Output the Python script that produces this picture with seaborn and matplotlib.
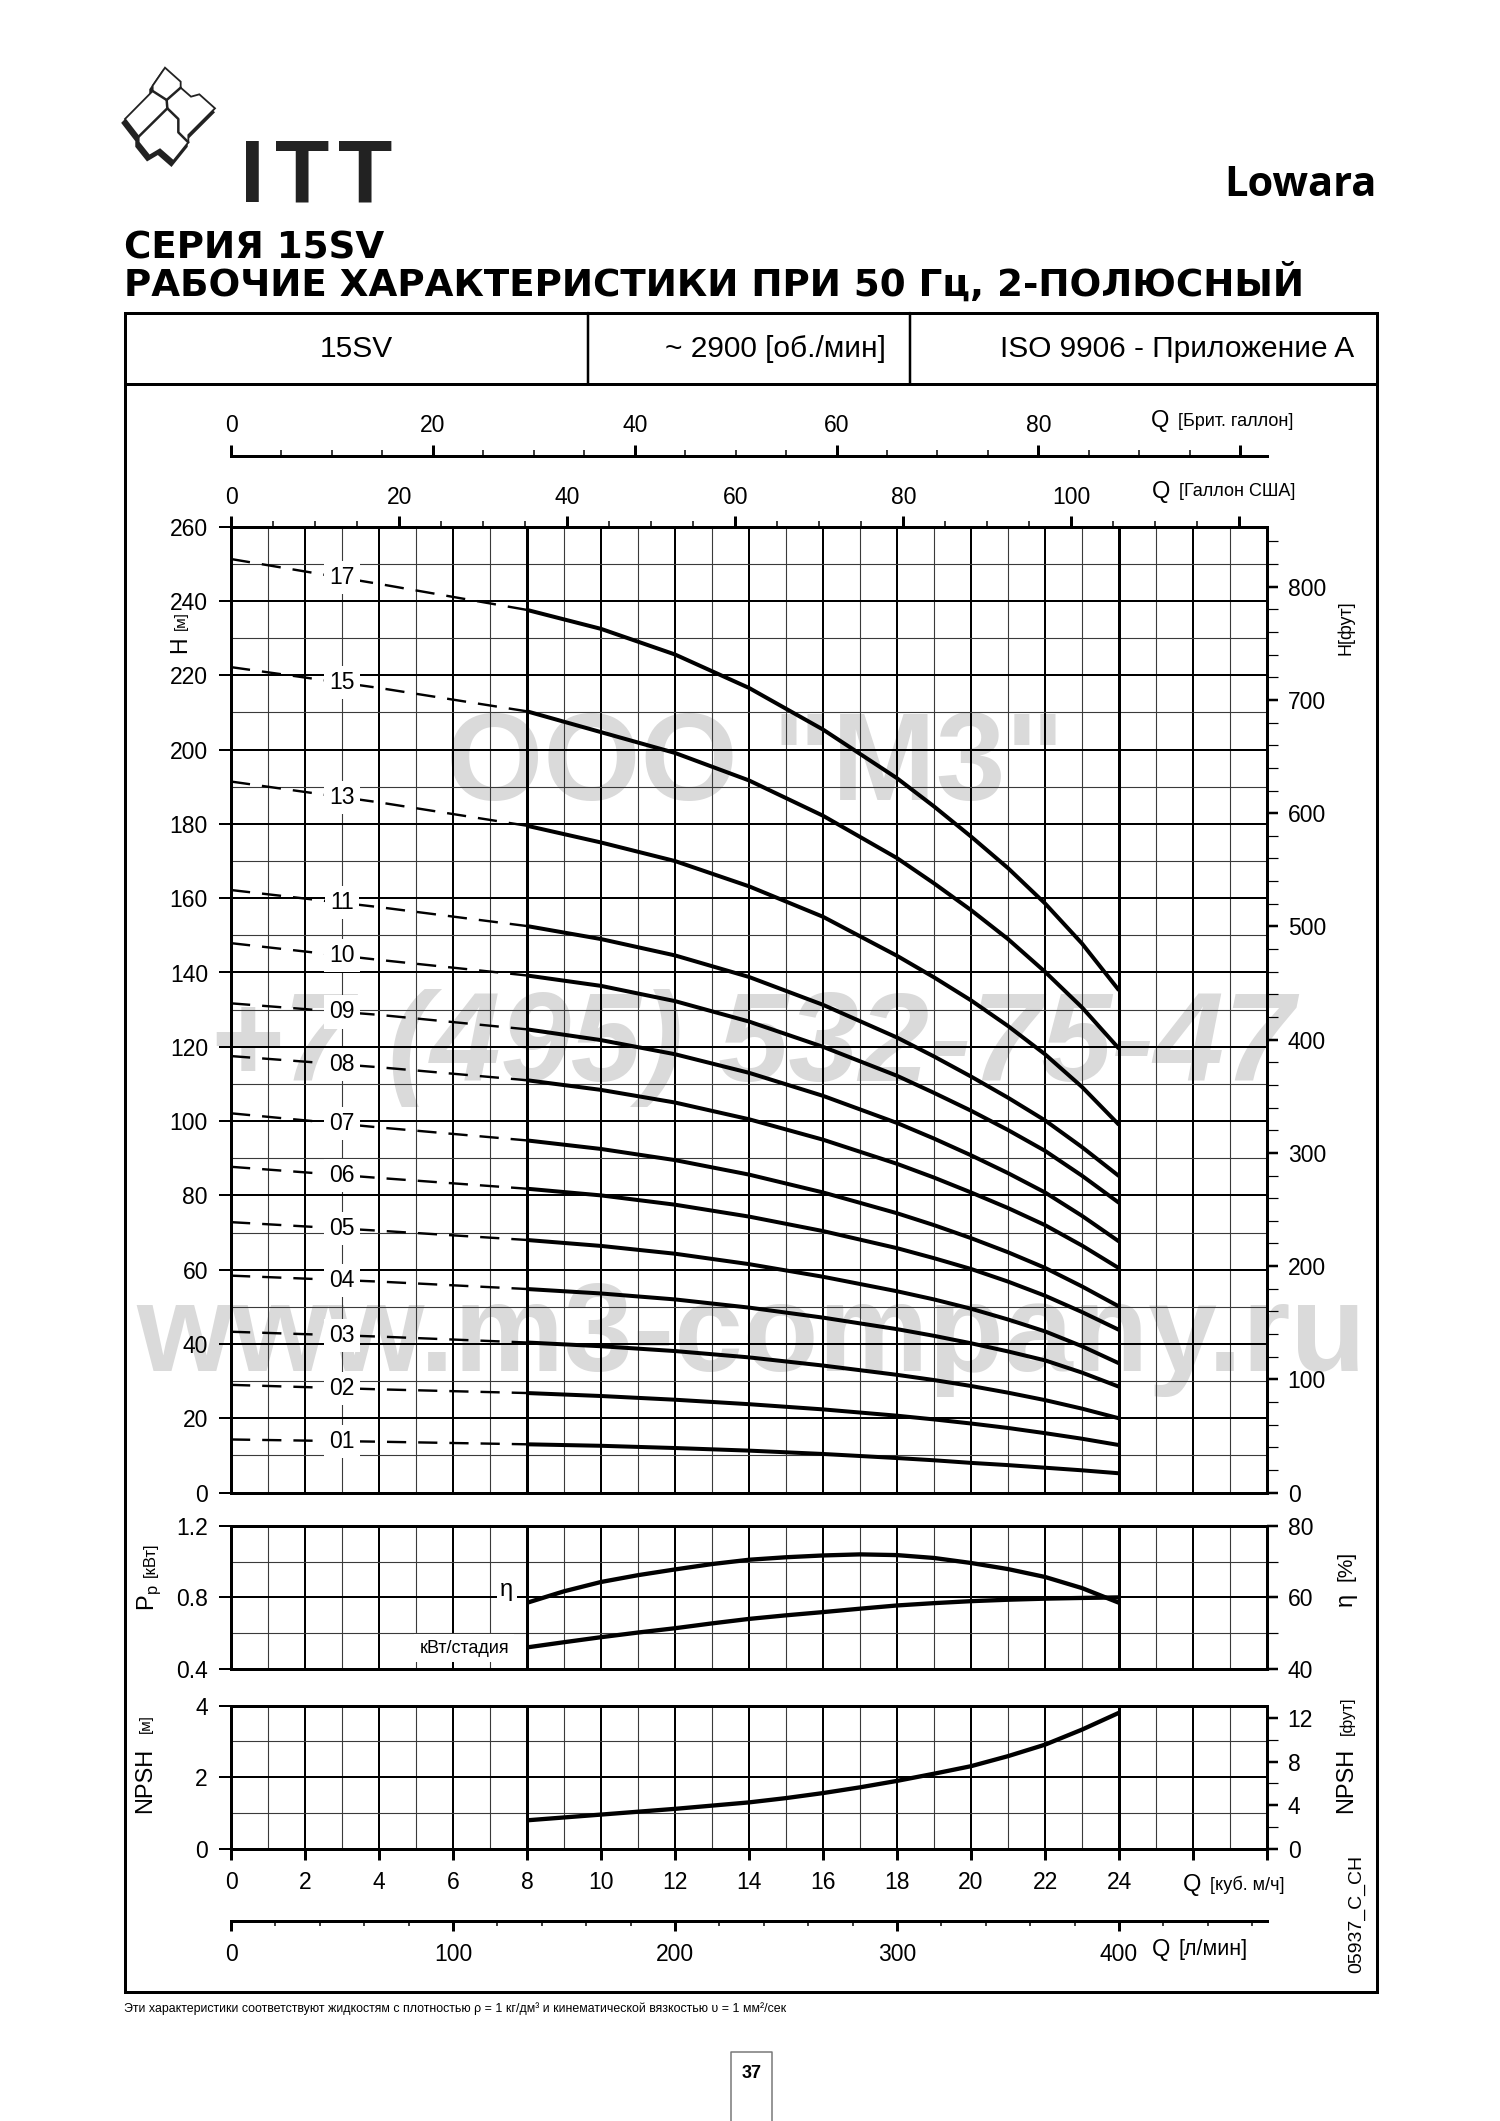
import numpy as np
import pandas as pd
import matplotlib
matplotlib.use("Agg")
import matplotlib.pyplot as plt
import seaborn as sns
from matplotlib.patches import Polygon, Rectangle
from matplotlib.ticker import MultipleLocator, FixedLocator

sns.set_style("white")
plt.rcParams['font.family'] = ['Liberation Sans', 'DejaVu Sans']
plt.rcParams['mathtext.fontset'] = 'custom'
plt.rcParams['mathtext.rm'] = 'Liberation Sans'
for k in ['text.color', 'axes.labelcolor', 'xtick.color', 'ytick.color', 'axes.edgecolor']:
    plt.rcParams[k] = 'black'

W, H = 1500, 2121
PX = 0.72  # points per pixel at dpi=100

# ---- values ----
stages = ["01", "02", "03", "04", "05", "06", "07", "08", "09", "10", "11", "13", "15", "17"]
q_head = [0, 4, 8, 10, 12, 14, 16, 18, 19, 20, 21, 22, 23, 24]  # m3/h, dashed up to 8
head_01 = [14.3, 13.7, 13.0, 12.6, 12.0, 11.3, 10.4, 9.3, 8.7, 8.0, 7.4, 6.7, 6.0, 5.2]
head_02 = [29.0, 27.8, 26.8, 26.0, 25.0, 23.8, 22.4, 20.7, 19.7, 18.6, 17.4, 16.0, 14.5, 12.8]
head_03 = [43.3, 42.0, 40.4, 39.4, 38.1, 36.4, 34.2, 31.7, 30.3, 28.7, 26.9, 24.9, 22.6, 20.0]
head_04 = [58.4, 56.8, 54.8, 53.6, 52.0, 49.8, 47.1, 44.0, 42.2, 40.2, 38.0, 35.6, 32.3, 28.5]
head_05 = [72.8, 70.5, 68.0, 66.4, 64.3, 61.5, 58.1, 54.2, 52.0, 49.5, 46.6, 43.4, 39.4, 34.8]
head_06 = [87.7, 84.7, 81.8, 80.0, 77.5, 74.3, 70.4, 65.8, 63.1, 60.2, 56.8, 53.0, 48.6, 43.8]
head_07 = [102.1, 98.3, 94.8, 92.5, 89.5, 85.6, 80.8, 75.2, 72.0, 68.5, 64.7, 60.5, 55.5, 50.1]
head_08 = [117.5, 114.5, 111.0, 108.4, 105.0, 100.5, 95.0, 88.5, 84.8, 80.8, 76.6, 72.0, 66.5, 60.4]
head_09 = [131.7, 128.6, 124.7, 121.8, 118.0, 113.0, 106.8, 99.5, 95.3, 90.8, 86.0, 80.8, 74.5, 67.6]
head_10 = [147.9, 143.4, 139.2, 136.4, 132.3, 126.8, 120.0, 112.2, 107.6, 102.8, 97.6, 92.0, 85.3, 78.0]
head_11 = [162.2, 157.6, 152.5, 149.0, 144.6, 138.8, 131.3, 122.5, 117.4, 112.0, 106.3, 100.2, 93.0, 85.2]
head_13 = [191.4, 185.8, 179.5, 175.0, 170.0, 163.2, 155.0, 144.5, 138.7, 132.5, 125.6, 118.0, 109.2, 99.0]
head_15 = [222.2, 216.6, 210.3, 204.7, 199.1, 191.7, 182.2, 170.8, 164.0, 156.8, 149.0, 140.2, 130.6, 119.5]
head_17 = [251.3, 244.6, 237.6, 232.5, 225.6, 216.6, 205.4, 192.3, 184.7, 176.6, 168.1, 158.6, 147.8, 135.2]

q_perf = [8, 9, 10, 11, 12, 13, 14, 15, 16, 17, 18, 19, 20, 21, 22, 23, 24]
eff_pct = [58.5, 61.7, 64.3, 66.2, 67.8, 69.3, 70.5, 71.2, 71.7, 72.0, 71.8, 71.0, 69.6, 67.9, 65.7, 62.6, 58.5]
kw_stage = [0.521, 0.550, 0.578, 0.604, 0.628, 0.655, 0.680, 0.700, 0.718, 0.737, 0.755, 0.768,
            0.779, 0.787, 0.793, 0.797, 0.800]
npsh_m = [0.80, 0.88, 0.96, 1.04, 1.12, 1.21, 1.30, 1.42, 1.56, 1.72, 1.90, 2.10, 2.31, 2.59,
          2.91, 3.33, 3.80]

us_ticks = [0, 20, 40, 60, 80, 100, 120]
us_labels = ["0", "20", "40", "60", "80", "100", ""]
uk_ticks = [0, 20, 40, 60, 80, 100]
uk_labels = ["0", "20", "40", "60", "80", ""]
q_ticks = list(range(0, 29, 2))
q_labels = [str(v) for v in range(0, 25, 2)] + ["", ""]

heads = [head_01, head_02, head_03, head_04, head_05, head_06, head_07,
         head_08, head_09, head_10, head_11, head_13, head_15, head_17]
rows = [(st, q, h) for st, vals in zip(stages, heads) for q, h in zip(q_head, vals)]
df_head = pd.DataFrame(rows, columns=["stage", "Q", "H"])
df_perf = pd.DataFrame({"Q": q_perf, "eta": eff_pct, "kw": kw_stage, "npsh": npsh_m})

fig = plt.figure(figsize=(W / 100, H / 100), dpi=100)


def rect(x0, y0, x1, y1):
    return [x0 / W, 1 - y1 / H, (x1 - x0) / W, (y1 - y0) / H]


# page layer in pixel coordinates
ov = fig.add_axes([0, 0, 1, 1])
ov.set_xlim(0, W)
ov.set_ylim(H, 0)
ov.axis('off')

# watermark
wm = dict(color='#dadada', fontweight='bold', ha='center', va='center', zorder=0)
ov.text(755, 768, 'ООО "М3"', fontsize=90, **wm)
ov.text(752, 1048, '+7 (495) 532-75-47', fontsize=91, style='italic', **wm)
ov.text(751, 1339, 'www.m3-company.ru', fontsize=89, **wm)

# frame and header row
ov.add_patch(Rectangle((124.5, 312.5), 1377 - 124.5, 1992 - 312.5, fill=False, lw=3 * PX, ec='k'))
ov.plot([124.5, 1377], [384, 384], color='k', lw=3 * PX)
ov.plot([588, 588], [312.5, 384], color='k', lw=2.5 * PX)
ov.plot([910, 910], [312.5, 384], color='k', lw=2.5 * PX)
ov.text(356, 349, '15SV', fontsize=21.5, ha='center', va='center')
ov.text(886, 349, '~ 2900 [об./мин]', fontsize=21.5, ha='right', va='center')
ov.text(1354, 349, 'ISO 9906 - Приложение A', fontsize=21.5, ha='right', va='center')

# titles and logo
ov.text(124, 248, 'СЕРИЯ 15SV', fontsize=26.8, fontweight='bold', family='DejaVu Sans', va='center')
ov.text(124, 284, 'РАБОЧИЕ ХАРАКТЕРИСТИКИ ПРИ 50 Гц, 2-ПОЛЮСНЫЙ', fontsize=26.8,
        fontweight='bold', family='DejaVu Sans', va='center')
ov.text(1377, 185, 'Lowara', fontsize=30, fontweight='bold', family='Open Sans', ha='right', va='center')
for ch, xc in [('I', 252), ('T', 302.5), ('T', 365)]:
    ov.text(xc, 202, ch, fontsize=64, fontweight='bold', ha='center', va='baseline', color='#222222')
emb = [(165, 38), (212, 80), (212, 98), (243, 125), (268, 118), (315, 160), (235, 240), (235, 262),
       (190, 318), (150, 283), (118, 302), (86, 262), (86, 245), (45, 192), (128, 108), (128, 92)]
emb = [(110 + x / 3, 55 + y / 3) for x, y in emb]
ov.add_patch(Polygon([(x - 2, y + 4) for x, y in emb], closed=True, fc='#222222', ec='#222222', lw=2))
ov.add_patch(Polygon(emb, closed=True, fc='white', ec='#222222', lw=1.3))
for path in [[(86, 245), (172, 160), (205, 192), (205, 232), (235, 262)],
             [(128, 108), (170, 135), (212, 98)], [(170, 135), (172, 160)]]:
    ov.plot([110 + x / 3 for x, y in path], [55 + y / 3 for x, y in path], color='#222222', lw=1.8)

# axis captions
for x, y, big, small, fs in [(1151, 421, 'Q', '[Брит. галлон]', 13), (1152, 492, 'Q', '[Галлон США]', 13),
                             (1183, 1885, 'Q', '[куб. м/ч]', 13), (1152, 1950, 'Q', '[л/мин]', 15.5)]:
    ov.text(x, y, big, fontsize=17, va='center')
    ov.text(x + 27, y, small, fontsize=fs, va='center')
rot = dict(rotation=90, ha='center', va='center')
ov.text(180, 645, 'H', fontsize=16.5, **rot)
ov.text(181, 621, '[м]', fontsize=11, **rot)
ov.text(1346, 628, 'H[фут]', fontsize=13, **rot)
ov.text(149, 1598, r'P$_\mathrm{p}$', fontsize=17, **rot)
ov.text(150, 1560, '[кВт]', fontsize=12, **rot)
ov.text(1346, 1599, 'η', fontsize=17, **rot)
ov.text(1346, 1566, '[%]', fontsize=15, **rot)
ov.text(145, 1780, 'NPSH', fontsize=17, **rot)
ov.text(146, 1724, '[м]', fontsize=11, **rot)
ov.text(1346, 1780, 'NPSH', fontsize=17, **rot)
ov.text(1347, 1716, '[фут]', fontsize=12, **rot)
ov.text(1357, 1914, '05937_C_CH', fontsize=14, **rot)

# footer and page number
ov.text(124, 2009, 'Эти характеристики соответствуют жидкостям с плотностью ρ = 1 кг/дм³ '
        'и кинематической вязкостью υ = 1 мм²/сек', fontsize=8.9, va='center')
ov.plot([731, 731, 772, 772], [2121, 2052, 2052, 2121], color='#777777', lw=1.5 * PX)
ov.text(751.5, 2073, '37', fontsize=13, fontweight='bold', ha='center', va='center')

# ---- chart axes ----
X0, X1 = 231, 1267
ax_h = fig.add_axes(rect(X0, 526.7, X1, 1492.6))
ax_p = fig.add_axes(rect(X0, 1525.7, X1, 1669.1))
ax_n = fig.add_axes(rect(X0, 1705.6, X1, 1849.0))

for ax in (ax_h, ax_p, ax_n):
    ax.patch.set_visible(False)
    ax.set_xlim(0, 28)
    ax.xaxis.set_major_locator(FixedLocator(q_ticks))
    ax.xaxis.set_minor_locator(MultipleLocator(1))
    ax.grid(which='major', color='black', lw=2 * PX)
    ax.grid(which='minor', color='#3a3a3a', lw=1.1 * PX)
    for sp in ax.spines.values():
        sp.set_linewidth(3 * PX)
        sp.set_color('black')
    for q in (8, 24):
        ax.axvline(q, color='black', lw=3 * PX, zorder=1.6)
    ax.tick_params(axis='x', which='both', bottom=False, top=False, labelbottom=False, length=0)
    ax.tick_params(axis='y', which='major', left=True, direction='out', length=12 * PX,
                   width=2 * PX, labelsize=16.5, pad=8)
    ax.tick_params(axis='y', which='minor', left=False, length=0)

# head curves
ax_h.set_ylim(0, 260)
ax_h.yaxis.set_major_locator(MultipleLocator(20))
ax_h.yaxis.set_minor_locator(MultipleLocator(10))
sns.lineplot(data=df_head[df_head.Q >= 8], x='Q', y='H', units='stage', estimator=None,
             color='black', lw=4 * PX, solid_capstyle='butt', solid_joinstyle='round',
             legend=False, ax=ax_h, zorder=3)
sns.lineplot(data=df_head[df_head.Q <= 8], x='Q', y='H', units='stage', estimator=None,
             color='black', lw=2.4 * PX, linestyle=(0, (8, 5)), legend=False, ax=ax_h, zorder=3)
for st, vals in zip(stages, heads):
    ax_h.text(3, np.interp(3, q_head[:3], vals[:3]), st, fontsize=16.5, ha='center', va='center',
              zorder=5, bbox=dict(boxstyle='square,pad=0.22', fc='white', ec='none'))
ax_h.set_xlabel('')
ax_h.set_ylabel('')

ft = ax_h.secondary_yaxis('right', functions=(lambda m: m / 0.3048, lambda f: f * 0.3048))
ft.yaxis.set_major_locator(MultipleLocator(100))
ft.yaxis.set_minor_locator(MultipleLocator(20))
ft.tick_params(which='major', length=11 * PX, width=2.5 * PX, labelsize=16.5, pad=7)
ft.tick_params(which='minor', length=11 * PX, width=1.2 * PX)
ft.spines['right'].set_linewidth(3 * PX)

us = ax_h.secondary_xaxis('top', functions=(lambda q: q / 0.2271247, lambda g: g * 0.2271247))
uk = ax_h.secondary_xaxis((1492.6 - 456) / 965.9,
                          functions=(lambda q: q / 0.2727654, lambda g: g * 0.2727654))
for sec, ticks, labels, pad in [(us, us_ticks, us_labels, 4.5), (uk, uk_ticks, uk_labels, 6)]:
    sec.xaxis.set_major_locator(FixedLocator(ticks))
    sec.set_xticklabels(labels)
    sec.xaxis.set_minor_locator(MultipleLocator(5))
    sec.tick_params(which='major', length=11 * PX, width=3 * PX, labelsize=16.5, pad=pad)
    sec.tick_params(which='minor', length=6 * PX, width=1.5 * PX)
    sec.spines['top'].set_linewidth(3 * PX)

# power and efficiency
ax_p.set_ylim(0.4, 1.2)
ax_p.yaxis.set_major_locator(FixedLocator([0.4, 0.8, 1.2]))
ax_p.yaxis.set_minor_locator(FixedLocator([0.6, 1.0]))
ax_p.set_yticklabels(['0.4', '0.8', '1.2'])
ax_e = ax_p.twinx()
ax_e.set_ylim(40, 80)
ax_e.grid(False)
for name, sp in ax_e.spines.items():
    sp.set_visible(name == 'right')
    sp.set_linewidth(3 * PX)
ax_e.yaxis.set_major_locator(MultipleLocator(20))
ax_e.yaxis.set_minor_locator(MultipleLocator(10))
ax_e.tick_params(axis='y', which='major', right=True, direction='out', length=11 * PX,
                 width=2.5 * PX, labelsize=16.5, pad=7)
ax_e.tick_params(axis='y', which='minor', right=True, length=11 * PX, width=1.2 * PX)
sns.lineplot(data=df_perf, x='Q', y='kw', color='black', lw=4.3 * PX, solid_capstyle='butt', ax=ax_p, zorder=3)
sns.lineplot(data=df_perf, x='Q', y='eta', color='black', lw=4.3 * PX, solid_capstyle='butt', ax=ax_e, zorder=3)
ax_p.text(7.45, 0.84, 'η', fontsize=17, ha='center', va='center', zorder=5,
          bbox=dict(boxstyle='square,pad=0.15', fc='white', ec='none'))
ax_p.text(6.3, 0.517, 'кВт/стадия', fontsize=13, ha='center', va='center', zorder=5,
          bbox=dict(boxstyle='square,pad=0.3', fc='white', ec='none'))
for ax in (ax_p, ax_e):
    ax.set_xlabel('')
    ax.set_ylabel('')

# NPSH
ax_n.set_ylim(0, 4)
ax_n.yaxis.set_major_locator(MultipleLocator(2))
ax_n.yaxis.set_minor_locator(MultipleLocator(1))
sns.lineplot(data=df_perf, x='Q', y='npsh', color='black', lw=4.3 * PX, solid_capstyle='butt', ax=ax_n, zorder=3)
ax_n.set_xlabel('')
ax_n.set_ylabel('')
ax_n.set_xticklabels(q_labels)
ax_n.tick_params(axis='x', which='major', bottom=True, labelbottom=True, direction='out',
                 length=11 * PX, width=3 * PX, labelsize=16.5, pad=8)
nft = ax_n.secondary_yaxis('right', functions=(lambda m: m / 0.3048, lambda f: f * 0.3048))
nft.yaxis.set_major_locator(MultipleLocator(4))
nft.yaxis.set_minor_locator(MultipleLocator(2))
nft.tick_params(which='major', length=11 * PX, width=2.5 * PX, labelsize=16.5, pad=7)
nft.tick_params(which='minor', length=11 * PX, width=1.2 * PX)
nft.spines['right'].set_linewidth(3 * PX)

lpm = ax_n.secondary_xaxis((1849.0 - 1920.7) / 143.4,
                           functions=(lambda q: q * 1000 / 60, lambda l: l * 60 / 1000))
lpm.xaxis.set_major_locator(MultipleLocator(100))
lpm.xaxis.set_minor_locator(MultipleLocator(20))
lpm.tick_params(which='major', length=10 * PX, width=3 * PX, labelsize=16.5, pad=9)
lpm.tick_params(which='minor', length=5 * PX, width=1.5 * PX)
lpm.spines['bottom'].set_linewidth(3 * PX)

fig.savefig('out.png', dpi=100, facecolor='white')
